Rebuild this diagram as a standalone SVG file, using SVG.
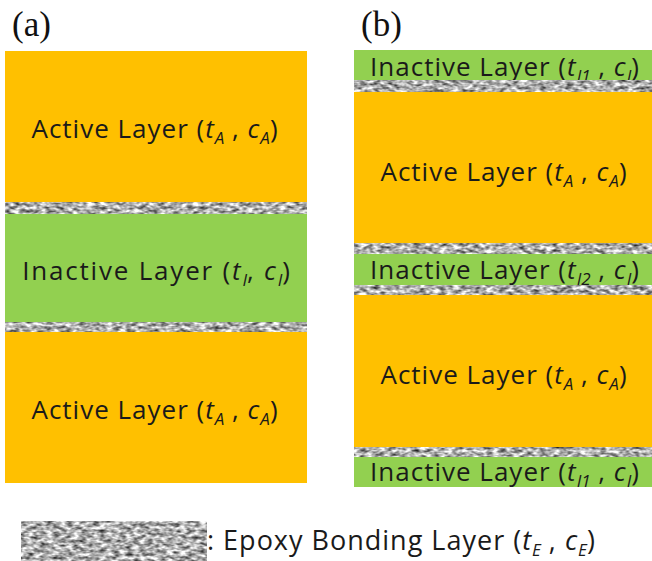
<svg xmlns="http://www.w3.org/2000/svg" width="652" height="561" viewBox="0 0 652 561">
  <defs>
    <!-- grey speckled grain used for the epoxy bonding layers -->
    <filter id="grain" x="0" y="0" width="1" height="1" color-interpolation-filters="sRGB">
      <feTurbulence type="fractalNoise" baseFrequency="0.15 0.3" numOctaves="2" seed="7"/>
      <feColorMatrix type="matrix" values="1.4 0 0 0 -0.02  1.4 0 0 0 -0.02  1.4 0 0 0 -0.02  0 0 0 0 1"/>
      <feGaussianBlur stdDeviation="0.6"/>
    </filter>
    <style>
      .active { fill: #FFC000; }
      .inactive { fill: #92D050; }
      .epoxy { fill: #a8a8a8; filter: url(#grain); }
      .lbl { font-family: "Open Sans", "Noto Sans", sans-serif; font-size: 26px; letter-spacing: 1px; fill: #1a1a1a; text-anchor: middle; }
      .wide { letter-spacing: 1.8px; }
      .leg { font-family: "Open Sans", "Noto Sans", sans-serif; font-size: 27px; letter-spacing: 1px; fill: #1a1a1a; }
      .it { font-style: italic; }
      .sub { font-style: italic; font-size: 17px; letter-spacing: 0; }
      .panel { font-family: "Liberation Serif", "Times New Roman", serif; font-size: 35px; fill: #111; }
    </style>
  </defs>

  <!-- panel captions -->
  <text class="panel" x="12" y="36">(a)</text>
  <text class="panel" x="361" y="36">(b)</text>

  <!-- panel (a): active / inactive / active -->
  <g id="a-active-top">
    <rect class="active" x="5" y="51" width="302" height="152"/>
    <text class="lbl" x="155" y="138">Active Layer (<tspan class="it">t</tspan><tspan class="sub" dy="6">A</tspan><tspan dy="-6"> , </tspan><tspan class="it">c</tspan><tspan class="sub" dy="6">A</tspan><tspan dy="-6">)</tspan></text>
  </g>
  <g id="a-epoxy-1">
    <rect class="epoxy" x="5" y="202" width="302" height="12"/>
  </g>
  <g id="a-inactive">
    <rect class="inactive" x="5" y="214" width="302" height="108"/>
    <text class="lbl wide" x="157" y="280">Inactive Layer (<tspan class="it">t</tspan><tspan class="sub" dy="6">I</tspan><tspan dy="-6">, </tspan><tspan class="it">c</tspan><tspan class="sub" dy="6">I</tspan><tspan dy="-6">)</tspan></text>
  </g>
  <g id="a-epoxy-2">
    <rect class="epoxy" x="5" y="322" width="302" height="10"/>
  </g>
  <g id="a-active-bottom">
    <rect class="active" x="5" y="332" width="302" height="151"/>
    <text class="lbl" x="155" y="419">Active Layer (<tspan class="it">t</tspan><tspan class="sub" dy="6">A</tspan><tspan dy="-6"> , </tspan><tspan class="it">c</tspan><tspan class="sub" dy="6">A</tspan><tspan dy="-6">)</tspan></text>
  </g>

  <!-- panel (b): inactive / active / inactive / active / inactive -->
  <g id="b-inactive-top">
    <rect class="inactive" x="354" y="50" width="298" height="31"/>
    <text class="lbl" x="505" y="76">Inactive Layer (<tspan class="it">t</tspan><tspan class="sub" dy="6">I1</tspan><tspan dy="-6"> , </tspan><tspan class="it">c</tspan><tspan class="sub" dy="6">I</tspan><tspan dy="-6">)</tspan></text>
  </g>
  <g id="b-epoxy-1">
    <rect class="epoxy" x="354" y="80" width="298" height="12"/>
  </g>
  <g id="b-active-top">
    <rect class="active" x="354" y="92" width="298" height="151"/>
    <text class="lbl" x="504" y="181">Active Layer (<tspan class="it">t</tspan><tspan class="sub" dy="6">A</tspan><tspan dy="-6"> , </tspan><tspan class="it">c</tspan><tspan class="sub" dy="6">A</tspan><tspan dy="-6">)</tspan></text>
  </g>
  <g id="b-epoxy-2">
    <rect class="epoxy" x="354" y="243" width="298" height="11"/>
  </g>
  <g id="b-inactive-mid">
    <rect class="inactive" x="354" y="254" width="298" height="31"/>
  </g>
  <g id="b-epoxy-3">
    <rect class="epoxy" x="354" y="285" width="298" height="10"/>
  </g>
  <text class="lbl" x="505" y="279">Inactive Layer (<tspan class="it">t</tspan><tspan class="sub" dy="6">I2</tspan><tspan dy="-6"> , </tspan><tspan class="it">c</tspan><tspan class="sub" dy="6">I</tspan><tspan dy="-6">)</tspan></text>
  <g id="b-active-bottom">
    <rect class="active" x="354" y="295" width="298" height="152"/>
    <text class="lbl" x="504" y="384">Active Layer (<tspan class="it">t</tspan><tspan class="sub" dy="6">A</tspan><tspan dy="-6"> , </tspan><tspan class="it">c</tspan><tspan class="sub" dy="6">A</tspan><tspan dy="-6">)</tspan></text>
  </g>
  <g id="b-epoxy-4">
    <rect class="epoxy" x="354" y="447" width="298" height="10"/>
  </g>
  <g id="b-inactive-bottom">
    <rect class="inactive" x="354" y="457" width="298" height="30"/>
    <text class="lbl" x="505" y="481">Inactive Layer (<tspan class="it">t</tspan><tspan class="sub" dy="6">I1</tspan><tspan dy="-6"> , </tspan><tspan class="it">c</tspan><tspan class="sub" dy="6">I</tspan><tspan dy="-6">)</tspan></text>
  </g>

  <!-- legend -->
  <g id="legend">
    <rect class="epoxy" x="21" y="521" width="186" height="40"/>
    <text class="leg" x="207" y="550">: Epoxy Bonding Layer (<tspan class="it">t</tspan><tspan class="sub" dy="6">E</tspan><tspan dy="-6"> , </tspan><tspan class="it">c</tspan><tspan class="sub" dy="6">E</tspan><tspan dy="-6">)</tspan></text>
  </g>
</svg>
